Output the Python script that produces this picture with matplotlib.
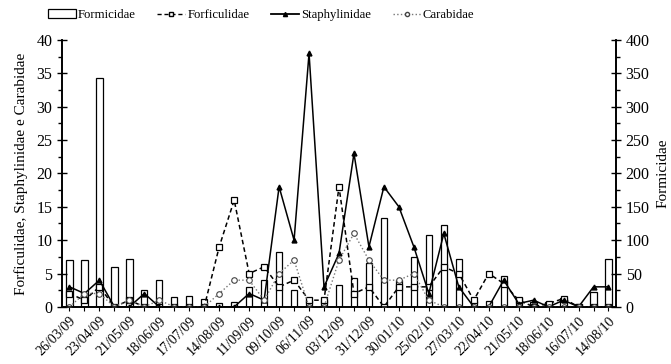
import numpy as np
import matplotlib.pyplot as plt
from matplotlib.patches import Patch
from matplotlib.ticker import MultipleLocator

plt.rcParams['font.family'] = ['Liberation Serif', 'DejaVu Serif']

# Sampling dates (every two weeks), labels only on every other date
labels = ['26/03/09', '23/04/09', '21/05/09', '18/06/09', '17/07/09', '14/08/09',
          '11/09/09', '09/10/09', '06/11/09', '03/12/09', '31/12/09', '30/01/10',
          '25/02/10', '27/03/10', '22/04/10', '21/05/10', '18/06/10', '16/07/10',
          '14/08/10']
n_samples = 37

formicidae = [70, 70, 343, 59, 72, 25, 41, 15, 16.5, 12.5, 6.5, 8, 30, 40, 82, 25,
              11, 10, 32.5, 44, 65, 132.5, 41, 75, 108, 122.5, 72, 9, 9, 46, 13.5,
              7.5, 7.5, 14, 5, 22.5, 72]
forficulidae = [2, 1, 3, 0, 1, 0, 0, 0, 0, 0, 9, 16, 5, 6, 3, 4, 1, 1, 18, 2, 3, 0,
                3, 3, 3, 6, 5, 1, 5, 3.5, 1, 0, 0.5, 1.25, 0, 0, 0]
staphylinidae = [3, 2, 4, 0, 0, 2, 0, 0, 0, 0, 0, 0, 2, 1, 18, 10, 38, 3, 8, 23, 9,
                 18, 15, 9, 2, 11, 3, 0, 0, 4, 0.5, 1, 0, 1, 0, 3, 3]
carabidae = [0, 2, 2, 0, 1, 0, 1, 0, 0, 0, 2, 4, 4, 1, 5, 7, 0, 0, 7, 11, 7, 4, 4,
             5, 1, 0, 0, 0, 0, 0, 0, 0, 0, 0, 0, 0, 0]

x = np.arange(n_samples)

fig = plt.figure(figsize=(6.71, 3.64), dpi=100)
ax = fig.add_axes([0.0924, 0.157, 0.8256, 0.733])
ax2 = ax.twinx()

# bars on the right axis, lines drawn above them
ax2.bar(x, formicidae, width=0.42, facecolor='white', edgecolor='black', linewidth=0.9)
ax.set_zorder(ax2.get_zorder() + 1)
ax.patch.set_visible(False)

ax.plot(x, forficulidae, color='black', linestyle=(0, (3, 2)), linewidth=1.1,
        marker='s', markersize=4, markerfacecolor='white', markeredgecolor='black',
        markeredgewidth=0.9)
ax.plot(x, staphylinidae, color='black', linestyle='-', linewidth=1.1,
        marker='^', markersize=3.5, markerfacecolor='black')
ax.plot(x, carabidae, color='#777777', linestyle=':', linewidth=1.0,
        marker='o', markersize=4, markerfacecolor='white', markeredgecolor='#444444',
        markeredgewidth=0.8)

ax.set_xlim(-0.5, n_samples - 0.5)
ax.set_ylim(0, 40)
ax2.set_ylim(0, 400)

ax.yaxis.set_major_locator(MultipleLocator(5))
ax.yaxis.set_minor_locator(MultipleLocator(2.5))
ax2.yaxis.set_major_locator(MultipleLocator(50))
ax2.yaxis.set_minor_locator(MultipleLocator(25))

ax.set_xticks(x)
ax.set_xticklabels([labels[i // 2] if i % 2 == 0 else '' for i in x],
                   rotation=45, ha='right', rotation_mode='anchor', fontsize=10)
ax.tick_params(axis='x', length=3, width=0.8, pad=2)
ax.tick_params(axis='y', which='major', direction='inout', length=7, width=1, labelsize=11.5)
ax.tick_params(axis='y', which='minor', direction='out', length=3, width=1)
ax2.tick_params(axis='y', which='major', direction='inout', length=7, width=1, labelsize=11.5)
ax2.tick_params(axis='y', which='minor', direction='out', length=3, width=1)

for a in (ax, ax2):
    a.spines['top'].set_visible(False)
    for s in ('left', 'right', 'bottom'):
        a.spines[s].set_linewidth(1.2)

ax.set_ylabel('Forficulidae, Staphylinidae e Carabidae', fontsize=11, labelpad=6)
ax2.set_ylabel('Formicidae', fontsize=11, labelpad=5)

handles = [
    Patch(facecolor='white', edgecolor='black', linewidth=0.9),
    plt.Line2D([], [], color='black', linestyle=(0, (3, 2)), linewidth=1.0, marker='s',
               markersize=3, markerfacecolor='white', markeredgecolor='black'),
    plt.Line2D([], [], color='black', linestyle='-', linewidth=1.3, marker='^',
               markersize=3, markerfacecolor='black'),
    plt.Line2D([], [], color='#777777', linestyle=':', linewidth=1.0, marker='o',
               markersize=3, markerfacecolor='white', markeredgecolor='#444444'),
]
fig.legend(handles, ['Formicidae', 'Forficulidae', 'Staphylinidae', 'Carabidae'],
           loc='center', bbox_to_anchor=(0.389, 0.958), ncol=4, frameon=False,
           fontsize=9.2, handlelength=2.2, handletextpad=0.15, columnspacing=1.7)

fig.savefig('out.png', dpi=100)
